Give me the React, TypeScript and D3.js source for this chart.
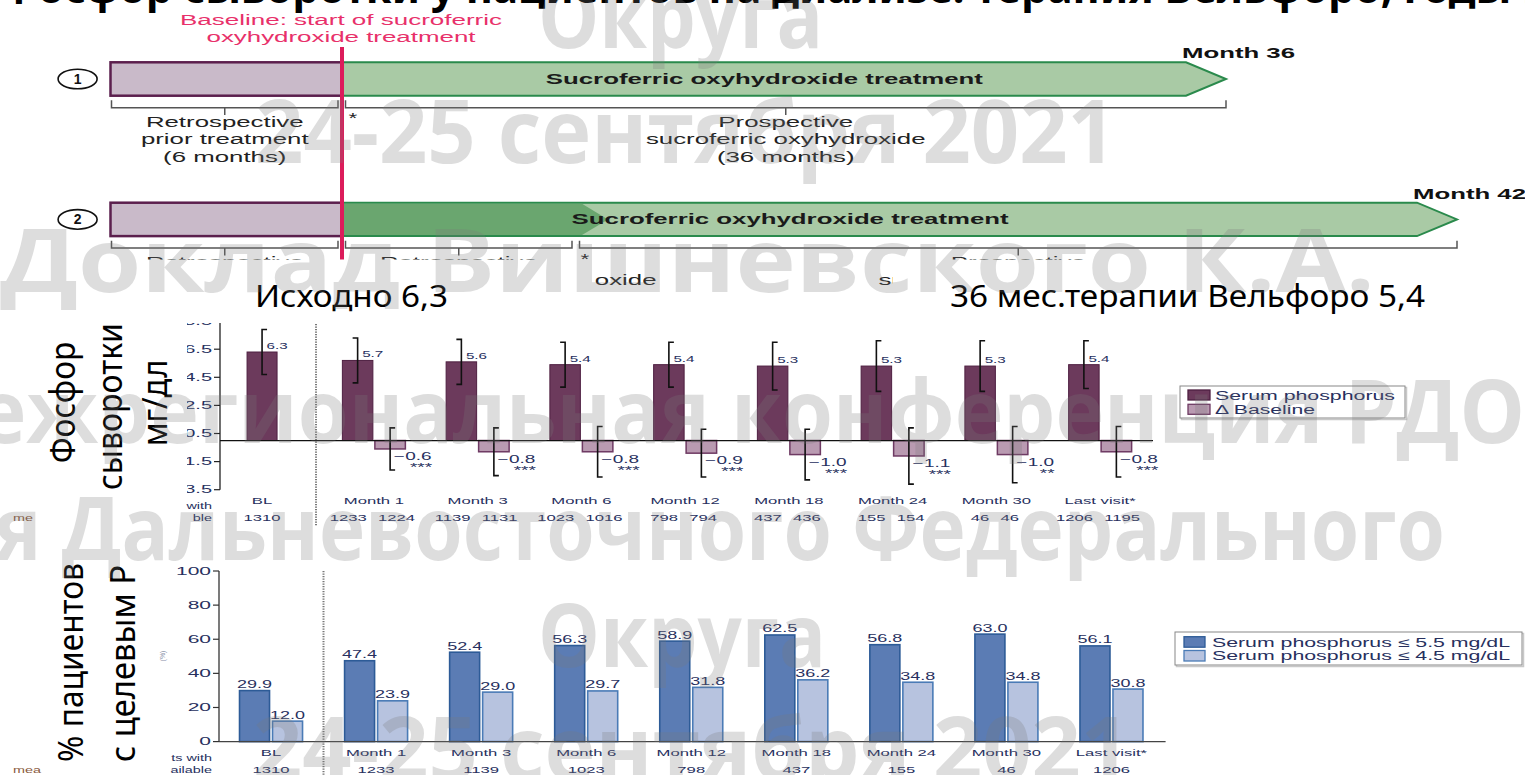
import React from "react";
import * as d3 from "d3";

const W = 1525;
const H = 775;
const ARIAL = "'Liberation Sans', Arial, sans-serif";
const SLIDE = "'Noto Sans', 'Open Sans', sans-serif";
const LABEL = "#27305e";

// ---------- Timeline data ----------
const cohort1Months = [-6, 0, 36];
const cohort2Months = [-6, 0, 6, 42];
const cohort1Labels = [
  ["Retrospective", "prior treatment", "(6 months)"],
  ["Prospective", "sucroferric oxyhydroxide", "(36 months)"],
];
const cohort2Labels = [
  ["Retrospective", "prior treatment", "(6 months)"],
  ["Retrospective", "sucroferric oxyhydroxide", "(6 months)"],
  ["Prospective", "sucroferric oxyhydroxide", "(36 months)"],
];
const treatmentLabel = "Sucroferric oxyhydroxide treatment";
const baselineLines = ["Baseline: start of sucroferric", "oxyhydroxide treatment"];
const endLabels = ["Month 36", "Month 42"];

// ---------- Chart 1: serum phosphorus (mg/dL) ----------
const visits = ["Month 1", "Month 3", "Month 6", "Month 12", "Month 18", "Month 24", "Month 30", "Last visit*"];
const phosCategories = ["BL", ...visits];
const meanValues = [6.3, 5.7, 5.6, 5.4, 5.4, 5.3, 5.3, 5.3, 5.4];
const meanSd = [1.6, 1.6, 1.6, 1.6, 1.6, 1.7, 1.8, 1.8, 1.7];
const meanN = [1310, 1233, 1139, 1023, 798, 437, 155, 46, 1206];
const deltaValues = [-0.6, -0.8, -0.8, -0.9, -1.0, -1.1, -1.0, -0.8];
const deltaSd = [1.5, 1.7, 1.8, 1.7, 1.8, 2.0, 2.0, 1.8];
const deltaSig = ["***", "***", "***", "***", "***", "***", "**", "***"];
const deltaN = [1224, 1131, 1016, 794, 436, 154, 46, 1195];
const phosTicks = [-3.5, -1.5, 0.5, 2.5, 4.5, 6.5, 8.5];
const legend1 = ["Serum phosphorus", "\u0394 Baseline"];

// ---------- Chart 2: % patients at target ----------
const pctCategories = ["BL", ...visits];
const pct55 = [29.9, 47.4, 52.4, 56.3, 58.9, 62.5, 56.8, 63.0, 56.1];
const pct45 = [12.0, 23.9, 29.0, 29.7, 31.8, 36.2, 34.8, 34.8, 30.8];
const pctN = [1310, 1233, 1139, 1023, 798, 437, 155, 46, 1206];
const pctTicks = [0, 20, 40, 60, 80, 100];
const legend2 = ["Serum phosphorus \u2264 5.5 mg/dL", "Serum phosphorus \u2264 4.5 mg/dL"];

// ---------- Slide overlay texts ----------
const titleText = "Фосфор сыворотки у пациентов на диализе: терапия Вельфоро, годы наблюдения";
const noteLeft = "Исходно  6,3";
const noteRight = "36 мес.терапии Вельфоро  5,4";
const axisLabel1 = ["Фосфор", "сыворотки", "мг/дл"];
const axisLabel2 = ["% пациентов", "с целевым  Р"];
const watermarkLines = [
  "Округа",
  "24-25 сентября 2021",
  "Доклад Вишневского К.А.",
  "Межрегиональная конференция РДО",
  "я Дальневосточного Федерального",
  "Округа",
  "24-25 сентября 2021",
];
const watermarkLayout = [
  { x0: 538, x1: 823, y: 48 },
  { x0: 255, x1: 1116, y: 163 },
  { x0: 0, x1: 1375, y: 292 },
  { x0: -100, x1: 1525, y: 443 },
  { x0: -5, x1: 1445, y: 560 },
  { x0: 538, x1: 826, y: 667 },
  { x0: 253, x1: 1130, y: 780 },
];

// ---------- Colours ----------
const PURPLE_DARK = "#6c3a5c";
const PURPLE_DARK_STROKE = "#4e1f41";
const PURPLE_LIGHT = "#b99ab1";
const PURPLE_LIGHT_STROKE = "#6e3a63";
const BLUE_DARK = "#5b7cb4";
const BLUE_DARK_STROKE = "#2d5b97";
const BLUE_LIGHT = "#b7c3df";
const BLUE_LIGHT_STROKE = "#4a7bb6";

type StProps = {
  x: number; y: number; sx?: number; size?: number; anchor?: string;
  weight?: string | number; fill?: string; family?: string; children: React.ReactNode;
};
const St = ({ x, y, sx = 1.8, size = 9, anchor = "start", weight = "normal", fill = LABEL, family = ARIAL, children }: StProps) => (
  <text transform={`translate(${x},${y}) scale(${sx},1)`} fontSize={size} textAnchor={anchor as any}
    fontWeight={weight as any} fill={fill} fontFamily={family}>{children}</text>
);

type TlProps = {
  x: number; y: number; w: number; size: number; anchor?: string; weight?: string | number;
  fill?: string; family?: string; transform?: string; opacity?: number; children: React.ReactNode;
};
const Tl = ({ x, y, w, size, anchor = "start", weight = "normal", fill = "#000", family = ARIAL, transform, opacity, children }: TlProps) => (
  <text x={x} y={y} textLength={w} lengthAdjust="spacingAndGlyphs" fontSize={size} textAnchor={anchor as any}
    fontWeight={weight as any} fill={fill} fontFamily={family} transform={transform} opacity={opacity}>{children}</text>
);

function Timeline() {
  const xs1 = d3.scaleLinear().domain(cohort1Months).range([110.5, 342, 1226]);
  const xs2 = d3.scaleLinear().domain(cohort2Months).range([110.5, 342, 576, 1457]);
  const rows = [
    { xs: xs1, months: cohort1Months, labels: cohort1Labels, top: 62.3, h: 33.4, num: "1", labelAt: 17.2, end: endLabels[0], endY: 57.5 },
    { xs: xs2, months: cohort2Months, labels: cohort2Labels, top: 202.7, h: 33.4, num: "2", labelAt: 14.75, end: endLabels[1], endY: 199 },
  ];
  const head = 40;
  return (
    <g>
      <defs>
        <clipPath id="row2clip">
          <rect x={0} y={0} width={W} height={259.5} />
          <rect x={595} y={0} width={298} height={300} />
        </clipPath>
      </defs>
      {baselineLines.map((t, i) => (
        <Tl key={t} x={341} y={25 + i * 16.5} w={i === 0 ? 322 : 269} size={14} anchor="middle" fill="#e8306a">{t}</Tl>
      ))}
      {rows.map((r, ri) => {
        const x0 = r.xs(r.months[0]);
        const xb = r.xs(0);
        const tip = r.xs(r.months[r.months.length - 1]);
        const mid = r.top + r.h / 2;
        const bot = r.top + r.h;
        const arrow = `M${xb},${r.top}H${tip - head}L${tip},${mid}L${tip - head},${bot}H${xb}Z`;
        const bY = bot + 12;
        const segs = d3.pairs(r.months);
        return (
          <g key={ri}>
            <ellipse cx={77.6} cy={mid} rx={19.5} ry={9.8} fill="#fff" stroke="#111" strokeWidth={1.6} />
            <text x={77.6} y={mid + 5} textAnchor="middle" fontFamily={ARIAL} fontWeight="bold" fontSize={14} fill="#111">{r.num}</text>
            <path d={arrow} fill="#a9caa5" stroke="#2a8a4c" strokeWidth={2} />
            {ri === 1 && (
              <path d={`M${xb},${r.top + 1}H${r.xs(6) + 6}L${r.xs(6) + 32},${mid}L${r.xs(6) + 6},${bot - 1}H${xb}Z`} fill="#6aa66f" />
            )}
            <rect x={x0} y={r.top} width={xb - x0} height={r.h} fill="#c9bac9" stroke="#5b1f4d" strokeWidth={2.5} />
            <Tl x={r.xs(r.labelAt)} y={mid + 5} w={437} size={14.5} anchor="middle" weight="bold" fill="#1a1a1a">{treatmentLabel}</Tl>
            <Tl x={tip - 44} y={r.endY} w={113} size={14.5} weight="bold" fill="#111">{r.end}</Tl>
            {segs.map(([a, b], si) => {
              const bx0 = r.xs(a) + (si === 0 ? 1 : 3.5);
              const bx1 = r.xs(b) - (si === segs.length - 1 ? 0 : 4);
              const cx = (bx0 + bx1) / 2;
              return (
                <g key={si}>
                  <path d={`M${bx0},${bY - 7.4}V${bY}H${bx1}V${bY - 7.4}M${cx},${bY}V${bY + 7.4}`} fill="none" stroke="#555" strokeWidth={1.5} />
                  <g clipPath={ri === 1 ? "url(#row2clip)" : undefined}>
                    {r.labels[si].map((line, li) => (
                      <St key={li} x={cx + (ri === 1 && si === 1 && li === 1 ? 58 : 0)} y={bY + 19 + li * 17.5} sx={1.78} size={14.5} anchor="middle" fill="#222">{line}</St>
                    ))}
                  </g>
                </g>
              );
            })}
            <St x={r.xs(ri === 0 ? 0 : 6) + (ri === 0 ? 11 : 9)} y={bY + 15.5} sx={1.5} size={15} anchor="middle" fill="#222">*</St>
          </g>
        );
      })}
      <line x1={342} x2={342} y1={47} y2={259.5} stroke="#dc1c5b" strokeWidth={4} />
    </g>
  );
}

function PhosChart() {
  const y = d3.scaleLinear().domain([-3.5, 8.5]).range([489.7, 321.1]);
  const xBL = d3.scaleBand().domain(["BL"]).range([220, 316]).paddingInner(0).paddingOuter(1.1).align(0.41);
  const xVis = d3.scaleBand().domain(visits).range([322, 1152]);
  const xSub = d3.scaleBand().domain(["mean", "delta"]).range([0, xVis.bandwidth()]).paddingInner(0.0615).paddingOuter(0.627);
  const capLeft = new Set(["Month 1", "Month 3", "Month 6"]);
  const y0 = y(0);
  const barX = (c: string) => (c === "BL" ? (xBL(c) as number) : (xVis(c) as number) + (xSub("mean") as number));
  const barW = (c: string) => (c === "BL" ? xBL.bandwidth() : xSub.bandwidth());
  const center = (c: string) => (c === "BL" ? (xBL(c) as number) + xBL.bandwidth() / 2 : (xVis(c) as number) + xVis.bandwidth() / 2);
  const fmt = (v: number) => (v < 0 ? "\u2212" + Math.abs(v).toFixed(1) : v.toFixed(1));
  return (
    <g>
      <defs>
        <clipPath id="yaxis1clip"><rect x={187} y={323} width={60} height={200} /></clipPath>
      </defs>
      <g clipPath="url(#yaxis1clip)">
        <line x1={220} x2={220} y1={y(8.5)} y2={y(-3.5)} stroke="#222" strokeWidth={1.3} />
        {phosTicks.map((t) => (
          <g key={t}>
            <line x1={214} x2={220} y1={y(t)} y2={y(t)} stroke="#222" strokeWidth={1.2} />
            <St x={212} y={y(t) + 3.5} sx={2.0} size={10} anchor="end">{fmt(t)}</St>
          </g>
        ))}
      </g>
      <line x1={316} x2={316} y1={324} y2={526} stroke="#777" strokeWidth={2} strokeDasharray="1.2,1.3" />
      {phosCategories.map((c, i) => {
        const v = meanValues[i];
        const x = barX(c);
        const w = barW(c);
        const cx = x + w / 2;
        const capD = capLeft.has(c) ? -5 : 5;
        return (
          <g key={c}>
            <rect x={x} y={y(v)} width={w} height={y0 - y(v)} fill={PURPLE_DARK} stroke={PURPLE_DARK_STROKE} strokeWidth={1} />
            <path d={`M${cx + capD},${y(v + meanSd[i])}H${cx}V${y(v - meanSd[i])}H${cx + capD}`} fill="none" stroke="#111" strokeWidth={1.6} />
            <St x={cx + 4.5} y={y(v) - 3} sx={1.6} size={9.5}>{fmt(v)}</St>
          </g>
        );
      })}
      {visits.map((c, i) => {
        const v = deltaValues[i];
        const x = (xVis(c) as number) + (xSub("delta") as number);
        const w = xSub.bandwidth();
        const cx = x + w / 2;
        const yb = y(v);
        return (
          <g key={c}>
            <rect x={x} y={y0} width={w} height={yb - y0} fill={PURPLE_LIGHT} stroke={PURPLE_LIGHT_STROKE} strokeWidth={1.5} />
            <path d={`M${cx + 5},${y(v + deltaSd[i])}H${cx}V${y(v - deltaSd[i])}H${cx + 5}`} fill="none" stroke="#111" strokeWidth={1.6} />
            <St x={cx + 4} y={yb + 11} sx={1.9} size={10}>{fmt(v)}</St>
            <St x={cx + 42} y={yb + 22} sx={1.9} size={10} anchor="end">{deltaSig[i]}</St>
          </g>
        );
      })}
      <line x1={220} x2={1153} y1={y0} y2={y0} stroke="#111" strokeWidth={1.3} />
      {phosCategories.map((c, i) => {
        const cx = center(c);
        return (
          <g key={c}>
            <St x={cx} y={503.5} sx={1.85} size={9} anchor="middle">{c}</St>
            {c === "BL" ? (
              <St x={cx} y={521} sx={1.85} size={9} anchor="middle">{meanN[i]}</St>
            ) : (
              <>
                <St x={cx - 7} y={521} sx={1.85} size={9} anchor="end">{meanN[i]}</St>
                <St x={cx + 4} y={521} sx={1.85} size={9}>{deltaN[i - 1]}</St>
              </>
            )}
          </g>
        );
      })}
      <St x={212} y={509} sx={1.6} size={9} anchor="end">with</St>
      <St x={212} y={520.5} sx={1.6} size={9} anchor="end">ble</St>
      <St x={13} y={520.5} sx={1.6} size={9} fill="#8a5a40">me</St>
      <g>
        <rect x={1181.5} y={387.5} width={225} height={32} fill="none" stroke="#c8c8c8" strokeWidth={1.5} />
        <rect x={1180} y={386} width={225} height={32} fill="#fff" stroke="#888" strokeWidth={1} />
        {legend1.map((t, i) => (
          <g key={t}>
            <rect x={1188} y={390 + i * 14.3} width={22} height={10} fill={i === 0 ? PURPLE_DARK : PURPLE_LIGHT} stroke={i === 0 ? PURPLE_DARK_STROKE : PURPLE_LIGHT_STROKE} strokeWidth={1.3} />
            <Tl x={1215} y={400 + i * 13.5} w={i === 0 ? 180 : 100} size={12} fill={LABEL}>{t}</Tl>
          </g>
        ))}
      </g>
    </g>
  );
}

function PctChart() {
  const y = d3.scaleLinear().domain([0, 100]).range([741.6, 571]);
  const x = d3.scaleBand().domain(pctCategories).range([218.5, 1164]);
  const xSub = d3.scaleBand().domain(["p55", "p45"]).range([0, x.bandwidth()]).paddingInner(0.0909).paddingOuter(0.637);
  const y0 = y(0);
  return (
    <g>
      <line x1={219} x2={219} y1={571} y2={y0} stroke="#333" strokeWidth={1.3} />
      {pctTicks.map((t) => (
        <g key={t}>
          <line x1={213} x2={219} y1={y(t)} y2={y(t)} stroke="#333" strokeWidth={1.2} />
          <St x={211} y={y(t) + 3.6} sx={2.1} size={10} anchor="end">{t}</St>
        </g>
      ))}
      <line x1={323.5} x2={323.5} y1={571} y2={775} stroke="#777" strokeWidth={2} strokeDasharray="1.2,1.3" />
      {pctCategories.map((c, i) => {
        const gx = x(c) as number;
        const items = [
          { k: "p55", v: pct55[i], fill: BLUE_DARK, stroke: BLUE_DARK_STROKE },
          { k: "p45", v: pct45[i], fill: BLUE_LIGHT, stroke: BLUE_LIGHT_STROKE },
        ];
        return (
          <g key={c}>
            {items.map((it) => {
              const bx = gx + (xSub(it.k) as number);
              const bw = xSub.bandwidth();
              return (
                <g key={it.k}>
                  <rect x={bx} y={y(it.v)} width={bw} height={y0 - y(it.v)} fill={it.fill} stroke={it.stroke} strokeWidth={1.6} />
                  <St x={bx + bw / 2} y={y(it.v) - 2.5} sx={1.8} size={10} anchor="middle">{it.v.toFixed(1)}</St>
                </g>
              );
            })}
            <St x={gx + x.bandwidth() / 2} y={755.5} sx={1.85} size={9} anchor="middle">{c}</St>
            <St x={gx + x.bandwidth() / 2} y={772.5} sx={1.85} size={9} anchor="middle">{pctN[i]}</St>
          </g>
        );
      })}
      <line x1={219} x2={1165.6} y1={y0} y2={y0} stroke="#444" strokeWidth={1.3} />
      <St x={212} y={761} sx={1.6} size={9} anchor="end">ts with</St>
      <St x={212} y={772.5} sx={1.6} size={9} anchor="end">ailable</St>
      <St x={13} y={772.5} sx={1.6} size={9} fill="#8a5a40">mea</St>
      <text transform="translate(165,656) rotate(-90)" fontSize={7} fontFamily={ARIAL} fill="#8890a8" textAnchor="middle">(%)</text>
      <g>
        <rect x={1176.5} y={633.5} width={347} height={33} fill="none" stroke="#c8c8c8" strokeWidth={1.5} />
        <rect x={1175} y={632} width={347} height={33} fill="#fff" stroke="#888" strokeWidth={1} />
        {legend2.map((t, i) => (
          <g key={t}>
            <rect x={1184} y={636.7 + i * 13.8} width={21} height={10.5} fill={i === 0 ? BLUE_DARK : BLUE_LIGHT} stroke={i === 0 ? BLUE_DARK_STROKE : BLUE_LIGHT_STROKE} strokeWidth={1.3} />
            <Tl x={1212} y={646.5 + i * 13.6} w={298} size={13} fill={LABEL}>{t}</Tl>
          </g>
        ))}
      </g>
    </g>
  );
}

function Overlays() {
  return (
    <g>
      <text x={0} y={3} fontSize={42} fontWeight="bold" fontFamily={SLIDE} fill="#000">{titleText}</text>
      <Tl x={255} y={307} w={193} size={31} family={SLIDE}>{noteLeft}</Tl>
      <Tl x={950} y={307} w={475} size={31} family={SLIDE}>{noteRight}</Tl>
      <Tl x={0} y={0} w={121.6} size={34} family={SLIDE} anchor="middle" transform="translate(75,402.5) rotate(-90)">{axisLabel1[0]}</Tl>
      <Tl x={0} y={0} w={167} size={34} family={SLIDE} anchor="middle" transform="translate(121.7,406.5) rotate(-90)">{axisLabel1[1]}</Tl>
      <Tl x={0} y={0} w={86.7} size={34} family={SLIDE} anchor="middle" transform="translate(166.7,403) rotate(-90)">{axisLabel1[2]}</Tl>
      <Tl x={0} y={0} w={199} size={34} family={SLIDE} anchor="middle" transform="translate(83.3,662.5) rotate(-90)">{axisLabel2[0]}</Tl>
      <Tl x={0} y={0} w={197} size={34} family={SLIDE} anchor="middle" transform="translate(135,663.5) rotate(-90)">{axisLabel2[1]}</Tl>
    </g>
  );
}

function Watermark() {
  return (
    <g pointerEvents="none">
      {watermarkLines.map((t, i) => {
        const l = watermarkLayout[i];
        return (
          <Tl key={i} x={l.x0} y={l.y} w={l.x1 - l.x0} size={88} weight="bold" family="'Open Sans', 'Noto Sans', sans-serif" fill="#7a7a7a" opacity={0.25}>{t}</Tl>
        );
      })}
    </g>
  );
}

export default function App() {
  return (
    <svg width={W} height={H} viewBox={`0 0 ${W} ${H}`} style={{ position: "absolute", left: 0, top: 0, background: "#fff" }}>
      <rect x={0} y={0} width={W} height={H} fill="#fff" />
      <Timeline />
      <PhosChart />
      <PctChart />
      <Overlays />
      <Watermark />
    </svg>
  );
}
